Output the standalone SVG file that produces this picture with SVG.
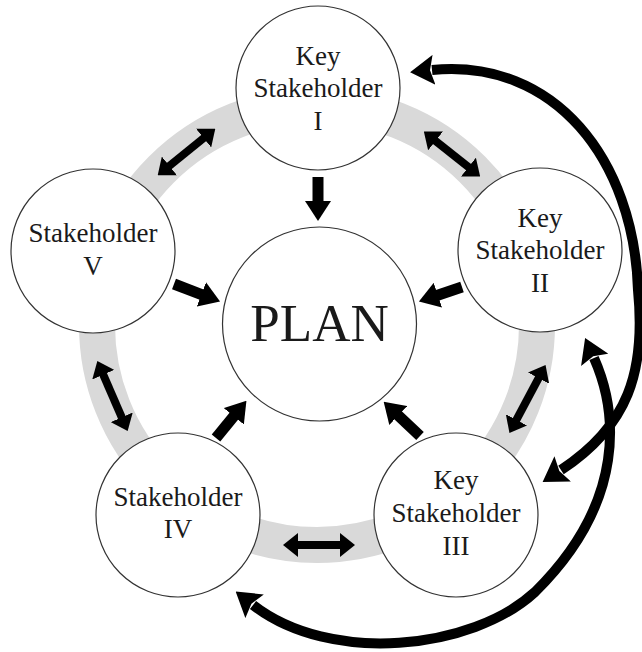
<svg xmlns="http://www.w3.org/2000/svg" width="642" height="652" viewBox="0 0 642 652">
<style>
.node{fill:#fff;stroke:#333;stroke-width:1.2}
.lbl{font-family:"Liberation Serif","Times New Roman",serif;font-size:27px;fill:#1a1a1a;text-anchor:middle}
.big{font-family:"Liberation Serif","Times New Roman",serif;font-size:53px;fill:#1a1a1a;text-anchor:middle}
.ring{fill:none;stroke:#d9d9d9;stroke-width:36}
.sa{stroke:#000;stroke-width:11;fill:none;marker-end:url(#hs)}
.da{stroke:#000;stroke-width:8;fill:none;marker-start:url(#hd);marker-end:url(#hd)}
.arc{stroke:#000;stroke-width:10;fill:none;marker-start:url(#ha);marker-end:url(#ha)}
</style>
<defs>
<marker id="hs" markerUnits="userSpaceOnUse" viewBox="0 0 20 26" markerWidth="20" markerHeight="26" refX="1" refY="13" orient="auto"><path d="M0,0 L20,13 L0,26 z" fill="#000"/></marker>
<marker id="hd" markerUnits="userSpaceOnUse" viewBox="0 0 15 24" markerWidth="15" markerHeight="24" refX="1" refY="12" orient="auto-start-reverse"><path d="M0,0 L15,12 L0,24 z" fill="#000"/></marker>
<marker id="ha" markerUnits="userSpaceOnUse" viewBox="0 0 24 30" markerWidth="24" markerHeight="30" refX="2" refY="15" orient="auto-start-reverse"><path d="M0,0 L24,15 L0,30 L4,15 z" fill="#000"/></marker>
</defs>
<rect width="642" height="652" fill="#fff"/>
<circle class="ring" cx="317" cy="325" r="220"/>
<g id="connectors">
<line class="sa" x1="318" y1="177" x2="318" y2="202"/>
<line class="sa" x1="174" y1="284" x2="202.3" y2="294.8"/>
<line class="sa" x1="462" y1="287" x2="436.9" y2="295.5"/>
<line class="sa" x1="420" y1="436" x2="397.5" y2="414.8"/>
<line class="sa" x1="216" y1="438" x2="234.4" y2="415.5"/>
<line class="da" x1="168.6" y1="166.5" x2="204.4" y2="137.5"/>
<line class="da" x1="434.8" y1="140.3" x2="469.2" y2="167.7"/>
<line class="da" x1="539" y1="377.3" x2="516" y2="420.7"/>
<line class="da" x1="297" y1="545" x2="341" y2="545"/>
<line class="da" x1="102.9" y1="373.8" x2="122.1" y2="418.2"/>
<path class="arc" d="M432,70 C555,58 634,160 638,290 C646,372 628,426 561,470"/>
<path class="arc" d="M594,358 C617,410 628,500 535,592 C472,650 330,665 253,605"/>
</g>
<g id="plan"><circle class="node" cx="319.5" cy="324" r="97"/><text class="big" x="319.5" y="341">PLAN</text></g>
<g id="ks1"><circle class="node" cx="318" cy="88" r="82"/><text class="lbl" x="318" y="65">Key</text><text class="lbl" x="318" y="97">Stakeholder</text><text class="lbl" x="318" y="130">I</text></g>
<g id="ks2"><circle class="node" cx="540" cy="250" r="82"/><text class="lbl" x="540" y="227">Key</text><text class="lbl" x="540" y="259">Stakeholder</text><text class="lbl" x="540" y="292">II</text></g>
<g id="ks3"><circle class="node" cx="456" cy="515" r="82"/><text class="lbl" x="456" y="489">Key</text><text class="lbl" x="456" y="522">Stakeholder</text><text class="lbl" x="456" y="555">III</text></g>
<g id="s4"><circle class="node" cx="178" cy="515" r="82"/><text class="lbl" x="178" y="506">Stakeholder</text><text class="lbl" x="178" y="538">IV</text></g>
<g id="s5"><circle class="node" cx="93" cy="251" r="82"/><text class="lbl" x="93" y="242">Stakeholder</text><text class="lbl" x="93" y="275">V</text></g>
</svg>
